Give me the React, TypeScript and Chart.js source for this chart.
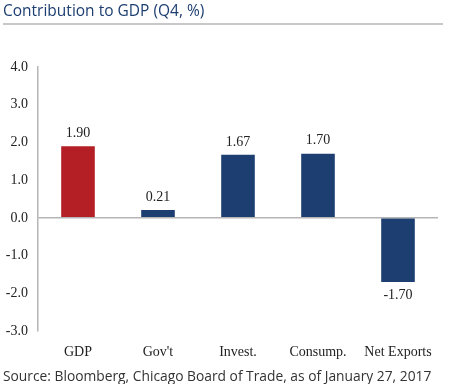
import React, { useEffect, useRef } from "react";
import { Chart, registerables } from "chart.js";

Chart.register(...registerables);

const categories = ["GDP", "Gov't", "Invest.", "Consump.", "Net Exports"];
const contributions = [1.9, 0.21, 1.67, 1.7, -1.7];
const barColors = ["#b41f25", "#1c3e71", "#1c3e71", "#1c3e71", "#1c3e71"];
const yMin = -3;
const yMax = 4;
const titleText = "Contribution to GDP (Q4, %)";
const sourceText = "Source: Bloomberg, Chicago Board of Trade, as of January 27, 2017";

const SERIF = "'Liberation Serif', 'Times New Roman', serif";
const SANS = "'Open Sans', 'Noto Sans', sans-serif";

const valueLabels = {
  id: "valueLabels",
  afterDatasetsDraw(chart: any) {
    const ctx = chart.ctx;
    const meta = chart.getDatasetMeta(0);
    ctx.save();
    ctx.font = `14px ${SERIF}`;
    ctx.fillStyle = "#222";
    ctx.textAlign = "center";
    meta.data.forEach((bar: any, i: number) => {
      const v = contributions[i];
      if (v >= 0) {
        ctx.textBaseline = "bottom";
        ctx.fillText(v.toFixed(2), bar.x, bar.y - 6);
      } else {
        ctx.textBaseline = "top";
        ctx.fillText(v.toFixed(2), bar.x, bar.y + 6);
      }
    });
    ctx.restore();
  },
};

export default function App() {
  const ref = useRef<HTMLCanvasElement>(null);
  useEffect(() => {
    document.body.style.margin = "0";
    const chart = new Chart(ref.current!, {
      type: "bar",
      data: {
        labels: categories,
        datasets: [
          {
            data: contributions,
            backgroundColor: barColors,
            borderWidth: 0,
            categoryPercentage: 1,
            barPercentage: 0.42,
          },
        ],
      },
      options: {
        animation: false,
        responsive: false,
        layout: { padding: { top: 67, right: 12, bottom: 13, left: 0 } },
        plugins: { legend: { display: false }, tooltip: { enabled: false } },
        scales: {
          x: {
            grid: { display: false },
            border: { display: false },
            ticks: { color: "#222", font: { family: SERIF, size: 14 }, padding: 5, maxRotation: 0 },
            afterFit(scale: any) {
              scale.height = 40;
            },
          },
          y: {
            min: yMin,
            max: yMax,
            grid: {
              drawTicks: false,
              color: (c: any) => (c.tick && c.tick.value === 0 ? "#b5b5b5" : "rgba(0,0,0,0)"),
              lineWidth: 1.5,
            },
            border: { display: true, color: "#b5b5b5", width: 1.5 },
            ticks: {
              stepSize: 1,
              color: "#222",
              font: { family: SERIF, size: 14 },
              padding: 10,
              callback: (v: any) => Number(v).toFixed(1),
            },
            afterFit(scale: any) {
              scale.width = 38;
            },
          },
        },
      },
      plugins: [valueLabels],
    });
    return () => chart.destroy();
  }, []);

  return (
    <div style={{ position: "relative", width: 450, height: 384, background: "#fff" }}>
      <canvas ref={ref} width={450} height={384} style={{ position: "absolute", left: 0, top: 0 }} />
      <div
        style={{
          position: "absolute",
          left: 3,
          top: 0,
          fontFamily: SANS,
          fontSize: 15.5,
          lineHeight: "20px",
          color: "#1c3e71",
          whiteSpace: "nowrap",
        }}
      >
        {titleText}
      </div>
      <div style={{ position: "absolute", left: 3, top: 23, width: 440, height: 2, background: "#c8c8c8" }} />
      <div
        style={{
          position: "absolute",
          left: 3,
          top: 366,
          fontFamily: SANS,
          fontSize: 13.8,
          lineHeight: "20px",
          color: "#333",
          whiteSpace: "nowrap",
        }}
      >
        {sourceText}
      </div>
    </div>
  );
}
